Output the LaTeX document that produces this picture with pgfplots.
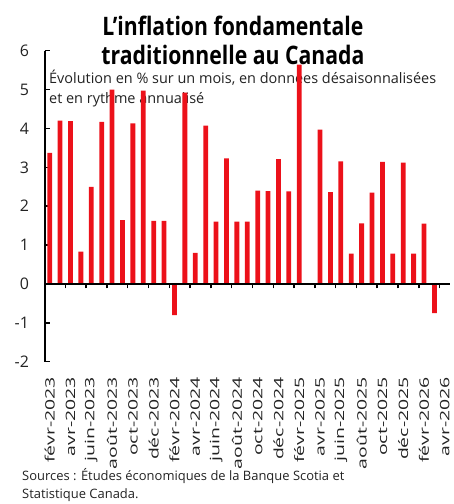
\documentclass[border=0pt]{standalone}
\usepackage{fontspec}
\setmainfont{Open Sans}
\usepackage{graphicx}
\usepackage{pgfplots}
\pgfplotsset{compat=1.18}
\definecolor{sred}{HTML}{EC111A}
\definecolor{stext}{HTML}{222222}
\newcommand\sx[1]{\scalebox{1.5}[1]{#1}}
\begin{document}
\begin{tikzpicture}[x=1bp,y=1bp]
\path[use as bounding box] (0,0) rectangle (454,504);
% titles (drawn first so the bars lie over them)
\node[font=\bfseries\fontsize{21.3}{28}\selectfont, anchor=base, inner sep=0] at (233,468) {\scalebox{1}[1.2]{L\char"0027 inflation fondamentale}};
\node[font=\bfseries\fontsize{21.3}{28}\selectfont, anchor=base, inner sep=0] at (233,439) {\scalebox{1}[1.2]{traditionnelle au Canada}};
\node[font=\fontsize{14.5}{16}\selectfont, text=stext, anchor=base west, inner sep=0] at (49,420) {Évolution en \% sur un mois, en données désaisonnalisées};
\node[font=\fontsize{14.5}{16}\selectfont, text=stext, anchor=base west, inner sep=0] at (49,400) {et en rythme annualisé};
\node[font=\fontsize{13}{16}\selectfont, text=stext, anchor=base west, inner sep=0] at (22,23) {Sources : Études économiques de la Banque Scotia et};
\node[font=\fontsize{13}{16}\selectfont, text=stext, anchor=base west, inner sep=0] at (22,5) {Statistique Canada.};
\begin{axis}[
  at={(44.5bp,142.3bp)}, anchor=south west,
  scale only axis, width=405.5bp, height=311bp,
  xmin=0.5, xmax=39.5, ymin=-2, ymax=6,
  axis y line=left, axis x line=bottom,
  x axis line style={draw=none},
  y axis line style={line width=2bp, -, black},
  ytick={-2,-1,0,1,2,3,4,5,6},
  ytick style={line width=1.5bp, black},
  major tick length=5bp, tick align=inside,
  xtick={1,3,...,39},
  xticklabels={\sx{févr-2023}, \sx{avr-2023}, \sx{juin-2023}, \sx{août-2023}, \sx{oct-2023}, \sx{déc-2023}, \sx{févr-2024}, \sx{avr-2024}, \sx{juin-2024}, \sx{août-2024}, \sx{oct-2024}, \sx{déc-2024}, \sx{févr-2025}, \sx{avr-2025}, \sx{juin-2025}, \sx{août-2025}, \sx{oct-2025}, \sx{déc-2025}, \sx{févr-2026}, \sx{avr-2026}},
  xtick style={draw=none},
  xticklabel style={rotate=90, anchor=east, font=\fontsize{13}{14}\selectfont, xshift=-7bp, text=stext},
  yticklabel style={font=\fontsize{16}{16}\selectfont, xshift=-12bp, text=stext},
  /pgf/number format/assume math mode=true,
  ybar, bar width=4.8bp,
  clip=false,
]
\addplot[fill=sred, draw=none] coordinates {
(1,3.37) (2,4.20) (3,4.19) (4,0.83) (5,2.50) (6,4.17) (7,5.00) (8,1.64)
(9,4.13) (10,4.97) (11,1.62) (12,1.62) (13,-0.80) (14,4.92) (15,0.80) (16,4.07)
(17,1.60) (18,3.23) (19,1.60) (20,1.60) (21,2.40) (22,2.39) (23,3.21) (24,2.38)
(25,5.64) (26,0) (27,3.97) (28,2.36) (29,3.15) (30,0.78) (31,1.56) (32,2.35)
(33,3.14) (34,0.78) (35,3.12) (36,0.78) (37,1.55) (38,-0.75) (39,0)
};
\end{axis}
\begin{axis}[
  at={(44.5bp,142.3bp)}, anchor=south west,
  scale only axis, width=405.5bp, height=311bp,
  xmin=0.5, xmax=39.5, ymin=-2, ymax=6,
  axis x line=middle, axis y line=none,
  x axis line style={line width=2bp, -, black},
  xtick={2.5,4.5,...,38.5}, xticklabels={},
  xtick style={line width=1.5bp, black},
  major tick length=4.5bp, tick align=outside,
  ytick=\empty,
]
\addplot[draw=none] coordinates {(1,0)};
\end{axis}
\end{tikzpicture}
\end{document}
